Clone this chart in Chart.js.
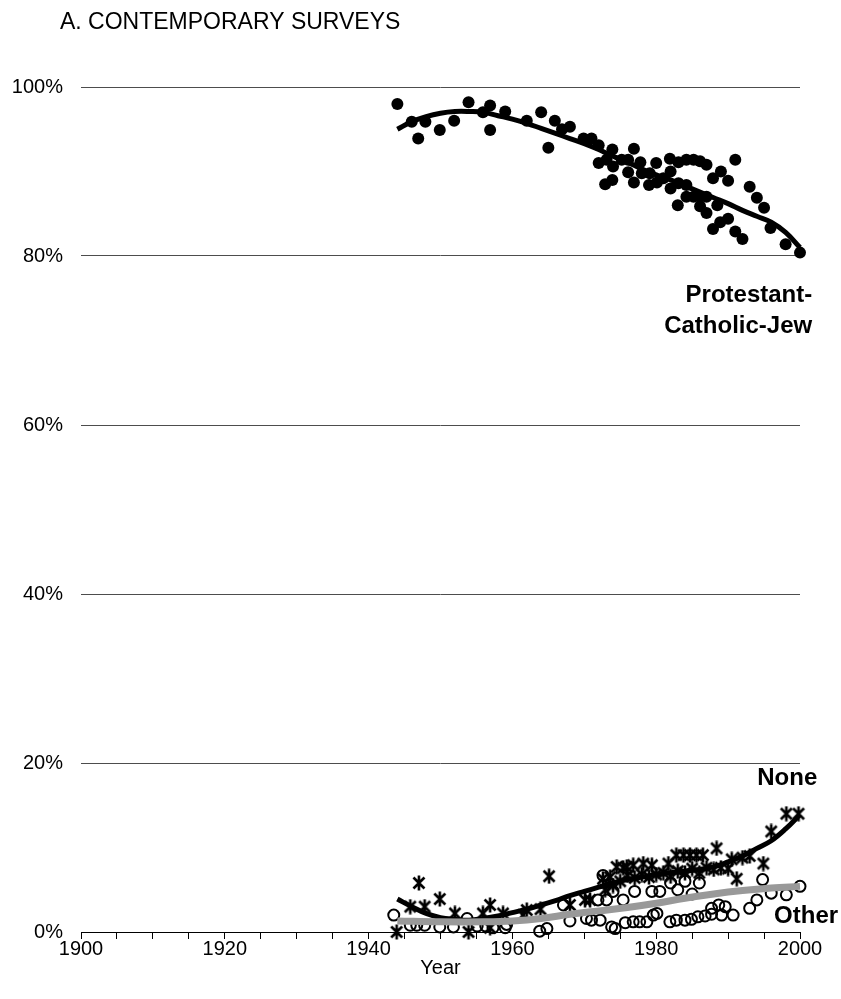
<!DOCTYPE html>
<html>
<head>
<meta charset="utf-8">
<script src="https://cdn.jsdelivr.net/npm/chart.js@4.4.1/dist/chart.umd.min.js"></script>
<style>
  html, body { margin: 0; padding: 0; background: #ffffff; }
  #wrap { width: 841px; height: 999px; }
</style>
</head>
<body>
<div id="wrap"><canvas id="chart" width="841" height="999"></canvas></div>
<script>
// Survey years and shares (%) of respondents by religious identification
const pcjYears = [1944,1946,1946.9,1947.9,1949.9,1951.9,1953.9,1955.9,1956.9,1956.9,1959,1962,1964,1965,1965.9,1966.9,1968,
  1969.9,1971,1972,1973.9,1976.9,1972,1973.1,1974,1975.2,1976.1,1976.1,1977.8,1978,1980,1979.1,1972.9,1973.9,1976.9,1979,
  1980.1,1981,1982,1981.9,1983.1,1984.2,1985.2,1986.1,1987,1982,1983.1,1984.2,1984.2,1985.2,1986.1,1987,1983,1986.1,1987,
  1988.5,1987.9,1989,1990,1991,1988.9,1990,1987.9,1991,1992,1993,1994,1995,1995.9,1998,2000];
const pcjValues = [98.0,95.9,93.9,95.9,94.9,96.0,98.2,97.0,97.8,94.9,97.1,96.0,97.0,92.8,96.0,95.0,95.3,
  93.9,93.9,93.1,92.6,92.7,91.0,91.4,90.6,91.4,91.4,89.9,91.1,89.8,91.0,89.8,88.5,89.0,88.7,88.4,
  88.7,89.2,90.0,91.5,91.1,91.4,91.4,91.2,90.8,88.0,88.6,88.4,87.0,87.0,87.0,87.0,86.0,85.9,85.1,
  86.0,89.2,90.0,88.9,91.4,84.0,84.4,83.2,82.9,82.0,88.2,86.9,85.7,83.3,81.4,80.4];

const noneYears = [1943.9,1945.8,1947,1947.8,1949.9,1952,1953.9,1955.9,1956.9,1956.9,1958.7,1961.5,1962,1963.9,1965.1,1968,
  1970.1,1970.8,1972.6,1973.6,1972.9,1974.5,1975.4,1975.9,1976.8,1978.2,1979.4,1981.7,1982.8,1983.8,1984.7,1985.6,1986.5,
  1988.4,1974,1975,1976,1977,1978,1979,1980,1981,1982,1983,1984,1985,1986,1987,1988,1989,1990,1991.2,1990.5,1992,1993,
  1994.9,1996,1998.1,1999.8];
const noneValues = [0.0,3.0,5.8,3.0,3.9,2.2,0.0,2.2,3.2,0.5,2.2,2.0,2.6,2.7,6.6,3.2,
  3.8,3.8,6.3,6.5,5.0,7.7,7.6,7.7,7.9,8.1,7.9,8.1,9.1,9.1,9.1,9.1,9.1,
  9.9,5.5,6.0,6.7,6.4,6.8,6.5,6.8,7.0,6.6,7.2,7.0,7.5,7.0,7.6,7.4,7.6,7.5,6.3,8.6,8.8,9.0,
  8.1,11.9,14.0,14.0];

const otherYears = [1943.5,1945.8,1946.7,1947.8,1949.9,1951.8,1953.7,1955.1,1956.3,1957.3,1959,1959.2,1963.8,1964.8,1967.1,
  1968,1970.3,1971,1972.2,1971.9,1973.1,1972.6,1974,1973.8,1974.3,1975.7,1975.4,1976.8,1977,1977.7,1978.7,1979.4,1979.6,
  1980.1,1980.5,1981.9,1982.8,1984,1984.9,1985.8,1986.8,1987.7,1982,1984,1986,1983,1985,1987.7,1988.7,1989.1,1989.6,1990.7,
  1993,1994,1994.8,1996,1998.1,2000];
const otherValues = [2.0,0.8,0.8,0.8,0.6,0.6,1.6,0.7,0.7,0.5,0.5,0.9,0.1,0.4,3.2,
  1.3,1.6,1.4,1.4,3.8,3.8,6.7,4.8,0.6,0.4,1.1,3.8,1.2,4.8,1.2,1.2,4.8,2.0,
  2.2,4.8,1.2,1.4,1.4,1.5,1.8,1.9,2.1,5.8,6.0,5.8,5.0,4.5,2.8,3.2,2.0,3.0,2.0,
  2.8,3.8,6.2,4.6,4.4,5.4];

// Smoothed trend lines
const pcjTrendYears = [1944,1946,1948,1950,1952,1954,1956,1958,1960,1962,1964,1966,1968,1970,1972,1974,1976,1978,1980,1982,1984,1986,1988,1990,1992,1994,1996,1998,2000];
const pcjTrendValues = [95.0,95.9,96.5,96.9,97.1,97.1,97.0,96.6,96.2,95.7,95.1,94.5,93.9,93.3,92.6,91.8,91.1,90.3,89.6,89.0,88.3,87.6,86.9,86.2,85.4,84.7,84.0,82.8,81.0];
const noneTrendYears = [1944,1946,1948,1950,1952,1954,1956,1958,1960,1962,1964,1966,1968,1970,1972,1974,1976,1978,1980,1982,1984,1986,1988,1990,1992,1994,1996,1998,2000];
const noneTrendValues = [3.9,3.0,2.2,1.7,1.5,1.4,1.6,1.9,2.3,2.7,3.2,3.7,4.3,4.8,5.3,5.8,6.2,6.5,6.8,7.0,7.2,7.4,7.7,8.3,9.0,9.9,10.8,12.2,13.9];
const otherTrendYears = [1944,1950,1956,1960,1964,1968,1972,1976,1980,1984,1988,1992,1996,2000];
const otherTrendValues = [1.3,1.2,1.2,1.3,1.6,2.1,2.5,2.9,3.4,4.0,4.5,4.9,5.2,5.4];

const yTicks = [0,20,40,60,80,100];
const xLabelYears = [1900,1920,1940,1960,1980,2000];

const FONT = "'Liberation Sans', Arial, sans-serif";

function pts(xs, ys) { return xs.map((x, i) => ({ x: x, y: ys[i] })); }

// Asterisk marker: an X crossed by a vertical stroke
function makeAsterisk() {
  const c = document.createElement('canvas');
  c.width = 16; c.height = 16;
  const g = c.getContext('2d');
  g.strokeStyle = '#000'; g.lineWidth = 2.6; g.lineCap = 'butt';
  g.beginPath();
  g.moveTo(2.5, 2.5); g.lineTo(13.5, 13.5);
  g.moveTo(13.5, 2.5); g.lineTo(2.5, 13.5);
  g.moveTo(8, 0.5); g.lineTo(8, 15.5);
  g.stroke();
  return c;
}

const textPlugin = {
  id: 'textPlugin',
  afterDraw(chart) {
    const ctx = chart.ctx;
    const xs = chart.scales.x, ys = chart.scales.y;
    ctx.save();
    ctx.fillStyle = '#000';
    ctx.textBaseline = 'middle';
    ctx.font = "23px " + FONT;
    ctx.textAlign = 'left';
    ctx.fillText('A. CONTEMPORARY SURVEYS', 60, 23);
    ctx.font = "20px " + FONT;
    ctx.textAlign = 'center';
    ctx.fillText('Year', (chart.chartArea.left + chart.chartArea.right) / 2, 968);
    ctx.font = "bold 24px " + FONT;
    ctx.textAlign = 'right';
    ctx.fillText('Protestant-', xs.getPixelForValue(2001.7), ys.getPixelForValue(75.3));
    ctx.fillText('Catholic-Jew', xs.getPixelForValue(2001.7), ys.getPixelForValue(71.7));
    ctx.fillText('None', xs.getPixelForValue(2002.4), ys.getPixelForValue(18.2));
    ctx.fillText('Other', xs.getPixelForValue(2005.3), ys.getPixelForValue(1.8));
    ctx.restore();
  }
};

new Chart(document.getElementById('chart'), {
  type: 'scatter',
  data: {
    datasets: [
      { label: 'Other trend', type: 'line', data: pts(otherTrendYears, otherTrendValues), borderColor: '#999999', borderWidth: 7,
        pointRadius: 0, tension: 0.4, fill: false, order: 1, clip: false },
      { label: 'None trend', type: 'line', data: pts(noneTrendYears, noneTrendValues), borderColor: '#000', borderWidth: 5,
        pointRadius: 0, tension: 0.4, fill: false, order: 2, clip: false },
      { label: 'Protestant-Catholic-Jew trend', type: 'line', data: pts(pcjTrendYears, pcjTrendValues), borderColor: '#000', borderWidth: 5,
        pointRadius: 0, tension: 0.4, fill: false, order: 2, clip: false },
      { label: 'Protestant-Catholic-Jew', data: pts(pcjYears, pcjValues), pointRadius: 6, pointBackgroundColor: '#000',
        pointBorderWidth: 0, order: 3, clip: false },
      { label: 'None', data: pts(noneYears, noneValues), pointStyle: makeAsterisk(), pointRadius: 8, order: 3, clip: false },
      { label: 'Other', data: pts(otherYears, otherValues), pointRadius: 5.5, pointBorderColor: '#000', pointBorderWidth: 2,
        pointBackgroundColor: 'rgba(0,0,0,0)', order: 4, clip: false }
    ]
  },
  options: {
    responsive: false,
    animation: false,
    layout: { padding: { top: 87, right: 41, left: 0, bottom: 0 } },
    plugins: { legend: { display: false }, tooltip: { enabled: false }, title: { display: false } },
    scales: {
      x: {
        type: 'linear', min: 1900, max: 2000,
        afterFit(s) { s.height = 67; },
        border: { display: true, color: '#000', width: 1 },
        grid: { drawOnChartArea: false, drawTicks: true, tickLength: 7, color: '#000' },
        ticks: {
          stepSize: 5, autoSkip: false, maxRotation: 0, padding: -2, color: '#000',
          font: { family: FONT, size: 20 },
          callback: v => xLabelYears.includes(v) ? String(v) : ''
        }
      },
      y: {
        min: 0, max: 100,
        afterFit(s) { s.width = 81; },
        afterBuildTicks(s) { s.ticks = yTicks.map(v => ({ value: v })); },
        border: { display: false },
        grid: { drawTicks: false, color: c => c.tick && c.tick.value === 0 ? '#000' : '#4d4d4d', lineWidth: 1 },
        ticks: { padding: 18, color: '#000', font: { family: FONT, size: 20 }, callback: v => v + '%' }
      }
    }
  },
  plugins: [textPlugin]
});
</script>
</body>
</html>
